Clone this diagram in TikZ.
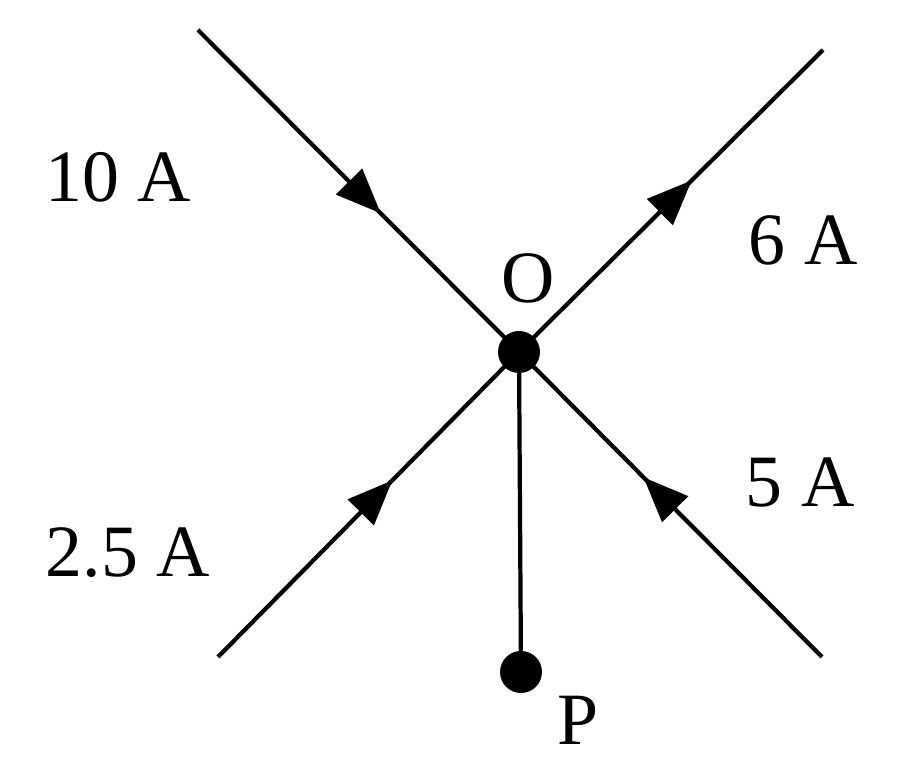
\documentclass[tikz,border=0pt]{standalone}
\usepackage{fontspec}
\setmainfont{Liberation Serif}
\usetikzlibrary{arrows.meta,decorations.markings}

\tikzset{
  wire/.style={line width=1.2pt},
  flow/.style={wire,postaction={decorate},decoration={markings,
    mark=at position #1 with {\arrow{Triangle[length=0.45cm,width=0.36cm]}}}},
  dot/.style={circle,fill=black,inner sep=0pt,minimum size=0.42cm},
  lbl/.style={font=\fontsize{21}{25}\selectfont}
}

\begin{document}
\begin{tikzpicture}
  \useasboundingbox (0,0) rectangle (9,7.83);
  % junction and ends
  \node[dot] (O) at (5.19,4.31) {};
  \node[dot] (P) at (5.21,1.11) {};
  \coordinate (ul) at (1.98,7.53);
  \coordinate (ur) at (8.23,7.33);
  \coordinate (ll) at (2.18,1.26);
  \coordinate (lr) at (8.22,1.26);
  % wires
  \draw[flow=0.57] (ul) -- (O.center);
  \draw[flow=0.57] (O.center) -- (ur);
  \draw[flow=0.58] (ll) -- (O.center);
  \draw[flow=0.59] (lr) -- (O.center);
  \draw[wire] (O.center) -- (P.center);
  % labels
  \node[lbl] (l10) at (1.18,6.06) {10 A};
  \node[lbl] (l6) at (8.03,5.43) {6 A};
  \node[lbl] (lO) at (5.28,5.05) {O};
  \node[lbl] (l25) at (1.28,2.30) {2.5 A};
  \node[lbl] (l5) at (8.00,3.00) {5 A};
  \node[lbl] (lP) at (5.78,0.63) {P};
\end{tikzpicture}
\end{document}
